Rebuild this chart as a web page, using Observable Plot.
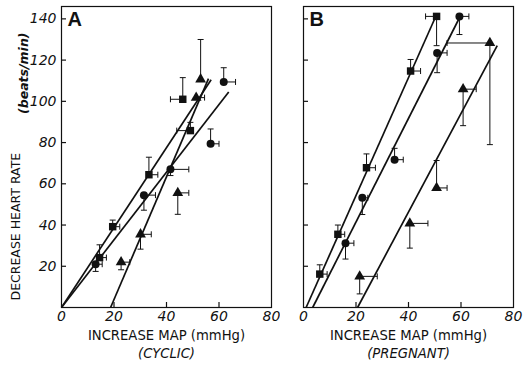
<!DOCTYPE html>
<html><head><meta charset="utf-8">
<script src="https://cdn.jsdelivr.net/npm/d3@7"></script>
<script src="https://cdn.jsdelivr.net/npm/@observablehq/plot@0.6"></script>
<style>
body{margin:0;background:#fff;}
#wrap{position:relative;width:525px;height:367px;overflow:hidden;}
#wrap svg{position:absolute;top:0;}
</style></head><body><div id="wrap"></div>
<script>
// ---- tick values ----
const xTicks = [0, 20, 40, 60, 80];
const xInnerTicks = [20, 40, 60];
const yTicks = [20, 40, 60, 80, 100, 120, 140];

// ---- Panel A (cyclic) ----
const aShape = ["square","square","square","square","square","circle","circle","circle","circle","circle","triangle","triangle","triangle","triangle","triangle"];
const aX    = [14.5, 19.5, 33.3, 46.2, 49.1, 13.0, 31.4, 41.5, 56.8, 61.8, 22.7, 30.1, 44.3, 51.3, 53.0];
const aY    = [24.2, 39.2, 64.4, 101.0, 85.8, 21.0, 54.5, 67.0, 79.4, 109.4, 22.0, 35.5, 55.6, 101.8, 110.7];
const aXErr = [2.6, 2.7, 3.4, -4.7, -5.2, 2.5, 4.4, 7.0, 3.2, 4.5, 3.3, 4.1, 4.2, 3.2, 0];
const aYErr = [6.2, 3.2, 8.5, 10.5, 4.0, -3.5, -7.3, -3.0, 7.2, 6.9, -3.7, -7.2, -10.4, 0, 19.3];
const aLineX1 = [0, 0, 18.7];
const aLineY1 = [0, 0, 0];
const aLineX2 = [57.0, 63.7, 56.0];
const aLineY2 = [110.5, 104.5, 111.0];

// ---- Panel B (pregnant) ----
const bShape = ["square","square","square","square","square","circle","circle","circle","circle","circle","triangle","triangle","triangle","triangle","triangle"];
const bX    = [6.2, 13.1, 24.0, 40.8, 50.7, 16.0, 22.4, 34.7, 50.9, 59.4, 21.4, 40.5, 50.7, 60.8, 71.0];
const bY    = [16.2, 35.5, 67.8, 114.7, 141.2, 31.2, 53.2, 71.7, 123.5, 141.2, 15.1, 40.8, 58.0, 105.9, 128.3];
const bXErr = [2.8, 2.6, 3.4, 3.8, -4.2, 3.2, 2.1, 3.3, 3.8, 3.6, 6.7, 6.9, 4.0, 5.0, -16.3];
const bYErr = [4.5, 4.5, 6.7, 5.6, -14.2, -7.7, -8.1, 5.5, -9.6, -8.8, -8.5, -12.0, 13.3, -17.7, -49.3];
const bLineX1 = [1.0, 3.5, 20.6];
const bLineY1 = [0, 0, 0];
const bLineX2 = [50.5, 60.0, 73.8];
const bLineY2 = [141.5, 142.0, 127.0];

const rowsOf = (s, x, y, xe, ye) => s.map((d, i) => ({s: d, x: x[i], y: y[i], xe: xe[i], ye: ye[i]}));
const linesOf = (x1, y1, x2, y2) => x1.map((d, i) => ({x1: d, y1: y1[i], x2: x2[i], y2: y2[i]}));

const capV = {draw(ctx){ ctx.moveTo(0, -3); ctx.lineTo(0, 3); }};
const capH = {draw(ctx){ ctx.moveTo(-3, 0); ctx.lineTo(3, 0); }};

const FONT = "DejaVu Sans, sans-serif";

function panel({rows, lines, letter, sub, width, ml, mr, yLabels}) {
  const hx = rows.filter(d => d.xe !== 0);
  const hy = rows.filter(d => d.ye !== 0);
  const marks = [
    Plot.frame({stroke: "#111", strokeWidth: 1.2}),
    Plot.ruleY(yTicks, {y: d => d, insetRight: 205, stroke: "#111", strokeWidth: 1.2}),
    Plot.ruleX(xInnerTicks, {x: d => d, insetTop: 296, stroke: "#111", strokeWidth: 1.2}),
    Plot.axisX({ticks: xTicks, tickSize: 0, tickPadding: 4, fontSize: 14, fontStyle: "italic", label: null}),
    // error bars
    Plot.link(hx, {x1: "x", y1: "y", x2: d => d.x + d.xe, y2: "y", stroke: "#111", strokeWidth: 1}),
    Plot.link(hy, {x1: "x", y1: "y", x2: "x", y2: d => d.y + d.ye, stroke: "#111", strokeWidth: 1}),
    Plot.dot(hx, {x: d => d.x + d.xe, y: "y", symbol: capV, stroke: "#111", strokeWidth: 1}),
    Plot.dot(hy, {x: "x", y: d => d.y + d.ye, symbol: capH, stroke: "#111", strokeWidth: 1}),
    // regression lines
    Plot.link(lines, {x1: "x1", y1: "y1", x2: "x2", y2: "y2", stroke: "#111", strokeWidth: 1.7}),
    // points
    Plot.dot(rows.filter(d => d.s === "square"), {x: "x", y: "y", symbol: "square", r: 4.2, fill: "#111"}),
    Plot.dot(rows.filter(d => d.s === "circle"), {x: "x", y: "y", symbol: "circle", r: 4.0, fill: "#111"}),
    Plot.dot(rows.filter(d => d.s === "triangle"), {x: "x", y: "y", symbol: "triangle", r: 4.0, fill: "#111"}),
    Plot.text([letter], {frameAnchor: "top-left", dx: 6, dy: 5, text: d => d, textAnchor: "start", lineAnchor: "top", fontSize: 20, fontWeight: "bold", fontFamily: "Liberation Sans, Arial, sans-serif"}),
    Plot.text(["INCREASE MAP (mmHg)"], {frameAnchor: "bottom", dy: 32, text: d => d, fontSize: 13.2}),
    Plot.text([sub], {frameAnchor: "bottom", dy: 50, text: d => d, fontSize: 13.2, fontStyle: "italic"})
  ];
  if (yLabels) {
    marks.push(
      Plot.axisY({ticks: yTicks, tickSize: 0, tickPadding: 5, fontSize: 14, fontStyle: "italic", label: null}),
      Plot.text(["DECREASE HEART RATE"], {frameAnchor: "bottom-left", dx: -42, dy: -7, text: d => d, rotate: -90, textAnchor: "start", fontSize: 12.5}),
      Plot.text(["(beats/min)"], {frameAnchor: "top-left", dx: -42, dy: 26, text: d => d, rotate: -90, textAnchor: "end", fontSize: 12.5, fontStyle: "italic", fontWeight: 600})
    );
  }
  return Plot.plot({
    width, height: 367,
    marginLeft: ml, marginRight: mr, marginTop: 6, marginBottom: 60,
    x: {domain: [0, 80]},
    y: {domain: [0, 146], axis: yLabels ? undefined : null},
    style: {fontFamily: FONT, color: "#111", background: "transparent"},
    marks
  });
}

const wrap = document.getElementById("wrap");
const svgA = panel({rows: rowsOf(aShape, aX, aY, aXErr, aYErr), lines: linesOf(aLineX1, aLineY1, aLineX2, aLineY2), letter: "A", sub: "(CYCLIC)", width: 280, ml: 61, mr: 9, yLabels: true});
svgA.style.left = "0px";
const svgB = panel({rows: rowsOf(bShape, bX, bY, bXErr, bYErr), lines: linesOf(bLineX1, bLineY1, bLineX2, bLineY2), letter: "B", sub: "(PREGNANT)", width: 245, ml: 23, mr: 12, yLabels: false});
svgB.style.left = "280px";
wrap.appendChild(svgA);
wrap.appendChild(svgB);
</script>
</body></html>
